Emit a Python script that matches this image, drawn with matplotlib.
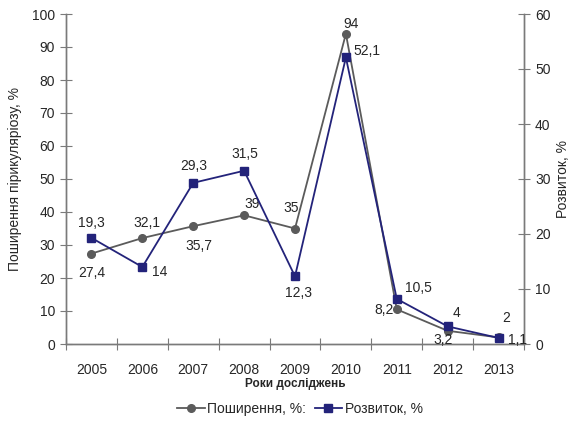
import matplotlib
matplotlib.use("Agg")
import matplotlib.pyplot as plt
from matplotlib.lines import Line2D

plt.rcParams['font.family'] = ['Liberation Sans', 'DejaVu Sans']

# --- дані ---
years = ["2005", "2006", "2007", "2008", "2009", "2010", "2011", "2012", "2013"]
poshyrennia = [27.4, 32.1, 35.7, 39, 35, 94, 10.5, 4, 2]      # ліва вісь
rozvytok = [19.3, 14, 29.3, 31.5, 12.3, 52.1, 8.2, 3.2, 1.1]   # права вісь
pos_labels = ["27,4", "32,1", "35,7", "39", "35", "94", "10,5", "4", "2"]
roz_labels = ["19,3", "14", "29,3", "31,5", "12,3", "52,1", "8,2", "3,2", "1,1"]

# зсуви підписів у пікселях (dx, dy вгору)
pos_off = [(0, -19), (5, 15), (6, -20), (8, 11), (-4, 20), (5, 10), (22, 21), (9, 18), (8, 19)]
roz_off = [(0, 15), (17, -5), (1, 17), (1, 17), (4, -17), (21, 6), (-13, -11), (-5, -14), (19, -2)]

GRAY = "#5b5b5b"
NAVY = "#23237a"
SPINE = "#7a7a7a"
TXT = "#262626"

fig = plt.figure(figsize=(5.75, 4.21), dpi=100)
ax = fig.add_axes([66 / 575, 1 - 344 / 421, (524 - 66) / 575, (344 - 14) / 421])
ax2 = ax.twinx()

x = list(range(len(years)))
ax.plot(x, poshyrennia, color=GRAY, lw=1.3, marker="o", ms=5.5, zorder=3)
ax2.plot(x, rozvytok, color=NAVY, lw=1.3, marker="s", ms=6, zorder=3)

for i in x:
    ax.annotate(pos_labels[i], (i, poshyrennia[i]), xytext=pos_off[i],
                textcoords="offset pixels", ha="center", va="center",
                fontsize=10, color=TXT)
    ax2.annotate(roz_labels[i], (i, rozvytok[i]), xytext=roz_off[i],
                 textcoords="offset pixels", ha="center", va="center",
                 fontsize=10, color=TXT)

ax.set_xlim(-0.5, len(years) - 0.5)
ax.set_ylim(0, 100)
ax2.set_ylim(0, 60)
ax.set_yticks(range(0, 101, 10))
ax2.set_yticks(range(0, 61, 10))

# основні мітки на межах категорій, підписи — по центру
ax.set_xticks([i - 0.5 for i in range(len(years) + 1)])
ax.set_xticklabels([])
ax.set_xticks(x, minor=True)
ax.set_xticklabels(years, minor=True)
ax.tick_params(axis="x", which="major", direction="inout", length=8, color=SPINE)
ax.tick_params(axis="x", which="minor", length=0, pad=14, labelsize=10, labelcolor=TXT)
ax.tick_params(axis="y", direction="inout", length=8, color=SPINE, labelsize=10,
               labelcolor=TXT, pad=4)
ax2.tick_params(axis="y", direction="inout", length=8, color=SPINE, labelsize=10,
                labelcolor=TXT, pad=4)

for a in (ax, ax2):
    a.spines["top"].set_visible(False)
    for s in ("left", "right", "bottom"):
        a.spines[s].set_color(SPINE)
        a.spines[s].set_linewidth(1.0)

fig.text(15 / 575, 1 - 179 / 421, "Поширення пірикуляріозу, %", rotation=90,
         ha="center", va="center", fontsize=10, color=TXT)
fig.text(563 / 575, 1 - 179 / 421, "Розвиток, %", rotation=90,
         ha="center", va="center", fontsize=10, color=TXT)
fig.text(295 / 575, 1 - 384 / 421, "Роки досліджень", ha="center", va="center",
         fontsize=8.5, fontweight="bold", color=TXT)

handles = [Line2D([], [], color=GRAY, lw=1.3, marker="o", ms=5.5),
           Line2D([], [], color=NAVY, lw=1.3, marker="s", ms=6)]
fig.legend(handles, ["Поширення, %:", "Розвиток, %"], loc="center",
           bbox_to_anchor=(300 / 575, 1 - 409 / 421), ncol=2, frameon=False,
           fontsize=10, handlelength=2.0, handletextpad=0.2, columnspacing=0.6,
           labelcolor=TXT)

fig.savefig("out.png", dpi=100)
